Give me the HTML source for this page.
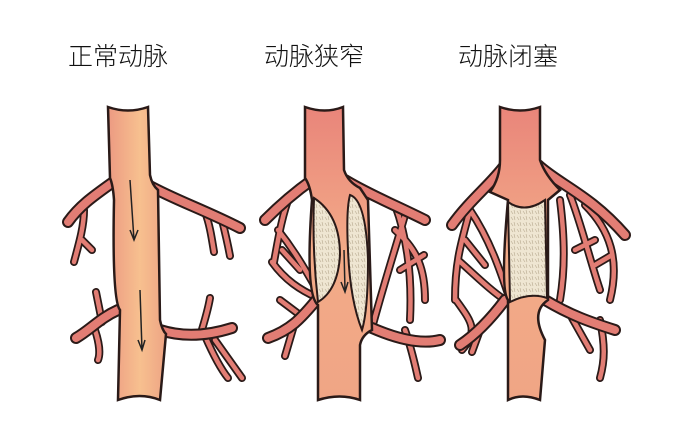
<!DOCTYPE html>
<html><head><meta charset="utf-8"><style>
html,body{margin:0;padding:0;background:#fff;width:678px;height:437px;overflow:hidden}
svg{display:block}
.t{font-family:"Liberation Sans","Noto Sans CJK SC",sans-serif;font-size:25px;font-weight:300;fill:#111}
.o{fill:none;stroke:#2a1a18;stroke-linecap:round;stroke-linejoin:round}
.i{fill:none;stroke:#e27d74;stroke-linecap:round;stroke-linejoin:round}
</style></head><body>
<svg width="678" height="437" viewBox="0 0 678 437" xmlns="http://www.w3.org/2000/svg">
<defs>
<linearGradient id="g" x1="0" x2="1" y1="0" y2="0">
<stop offset="0" stop-color="#ec9a82"/><stop offset="0.55" stop-color="#f7c08f"/><stop offset="1" stop-color="#eea484"/>
</linearGradient>
<linearGradient id="g2" x1="0" x2="0" y1="0" y2="1">
<stop offset="0" stop-color="#e9857a"/><stop offset="0.5" stop-color="#f3ab88"/><stop offset="1" stop-color="#f0a585"/>
</linearGradient>
<pattern id="p" width="6" height="6" patternUnits="userSpaceOnUse">
<rect width="6" height="6" fill="#efe6d2"/><path d="M1 1l2 3M4 0l1 4" stroke="#b8aa90" stroke-width="0.6"/>
</pattern>
<path id="m1" d="M116 180 C95 195 80 205 68 222 M148 185 C175 200 205 210 240 228 M118 310 C100 318 90 330 76 338 M160 330 C185 338 210 335 232 328"/>
<path id="t1" d="M84 210 C84 225 80 240 74 262 M82 240 L92 250 M205 212 C210 225 212 240 214 252 M222 220 C225 232 228 245 230 256 M102 322 L96 292 M95 330 C100 345 100 355 98 360 M200 336 C205 320 208 310 210 298 M205 336 C212 352 220 368 228 378 M215 340 L242 378"/>
<path id="m2" d="M312 180 C295 192 280 205 265 220 M345 180 C370 195 395 205 425 220 M372 328 C395 338 420 345 440 340 M318 298 C300 320 290 330 268 338"/>
<path id="t2" d="M290 195 C282 215 278 240 274 262 M278 230 C290 245 300 260 318 292 M272 262 C285 280 300 290 318 298 M282 250 L300 270 M395 205 C408 240 412 280 410 320 M405 215 C395 250 385 280 372 328 M395 230 C418 250 425 270 425 300 M400 270 L424 255 M405 330 C412 350 415 365 418 378 M295 322 L285 356 M300 315 L280 300"/>
<path id="m3" d="M505 165 C490 185 470 200 452 225 M538 165 C560 185 590 195 625 235 M545 300 C570 315 590 322 615 330 M505 300 C490 320 475 335 460 345"/>
<path id="t3" d="M470 210 C462 240 455 260 455 300 M470 210 C490 240 500 270 510 300 M458 260 C475 275 490 290 505 300 M465 240 L485 265 M456 300 C470 320 480 330 462 350 M480 330 L472 352 M570 195 C580 220 590 260 600 290 M560 200 C565 240 565 270 560 300 M585 205 C610 230 620 260 610 300 M575 250 L595 240 M595 265 L612 255 M600 320 C605 345 605 360 600 378 M572 318 L590 350"/>
</defs>

<text class="t" x="68" y="65">正常动脉</text>
<text class="t" x="264" y="65">动脉狭窄</text>
<text class="t" x="458" y="65">动脉闭塞</text>

<use href="#t1" class="o" stroke-width="8"/><use href="#t1" class="i" stroke-width="4.5"/>
<use href="#m1" class="o" stroke-width="12"/><use href="#m1" class="i" stroke-width="8"/>
<path d="M108 107 Q128 114 148 107 L150 175 Q152 185 158 190 L160 320 Q162 330 166 334 L160 400 Q140 392 118 400 L120 310 Q112 300 114 200 Q113 185 110 178 Z" fill="url(#g)" stroke="#2a1a18" stroke-width="2.5"/>
<path d="M130 180 L134 240 M130 230 l4 10 l4 -10" fill="none" stroke="#222" stroke-width="1.5"/>
<path d="M140 290 L142 350 M138 340 l4 10 l3 -10" fill="none" stroke="#222" stroke-width="1.5"/>

<use href="#t2" class="o" stroke-width="8"/><use href="#t2" class="i" stroke-width="4.5"/>
<use href="#m2" class="o" stroke-width="12"/><use href="#m2" class="i" stroke-width="8"/>
<path d="M305 107 Q325 114 343 107 L344 170 Q348 182 360 188 L368 200 L372 330 Q362 335 360 345 L360 400 Q340 393 318 400 L318 305 Q305 295 312 200 Q310 185 305 178 Z" fill="url(#g2)" stroke="#2a1a18" stroke-width="2.5"/>
<path d="M314 198 Q340 215 340 255 Q338 290 318 302 Q312 250 314 198Z" fill="url(#p)" stroke="#2a1a18" stroke-width="2"/>
<path d="M350 195 Q366 200 368 260 Q368 310 362 330 Q350 300 348 250 Q346 210 350 195Z" fill="url(#p)" stroke="#2a1a18" stroke-width="2"/>
<path d="M344 250 L345 290 M341 282 l4 10 l3 -10" fill="none" stroke="#222" stroke-width="1.5"/>

<use href="#t3" class="o" stroke-width="8"/><use href="#t3" class="i" stroke-width="4.5"/>
<use href="#m3" class="o" stroke-width="12"/><use href="#m3" class="i" stroke-width="8"/>
<path d="M500 107 Q520 114 540 107 L540 160 Q545 175 560 190 L548 200 L548 300 Q530 312 545 340 L540 400 Q522 393 508 400 L508 300 Q500 290 508 200 L490 192 Q500 178 500 160 Z" fill="url(#g2)" stroke="#2a1a18" stroke-width="2.5"/>
<path d="M508 202 Q525 214 545 200 L547 298 Q530 292 510 302 Z" fill="url(#p)" stroke="#2a1a18" stroke-width="2"/>
</svg>
</body></html>
